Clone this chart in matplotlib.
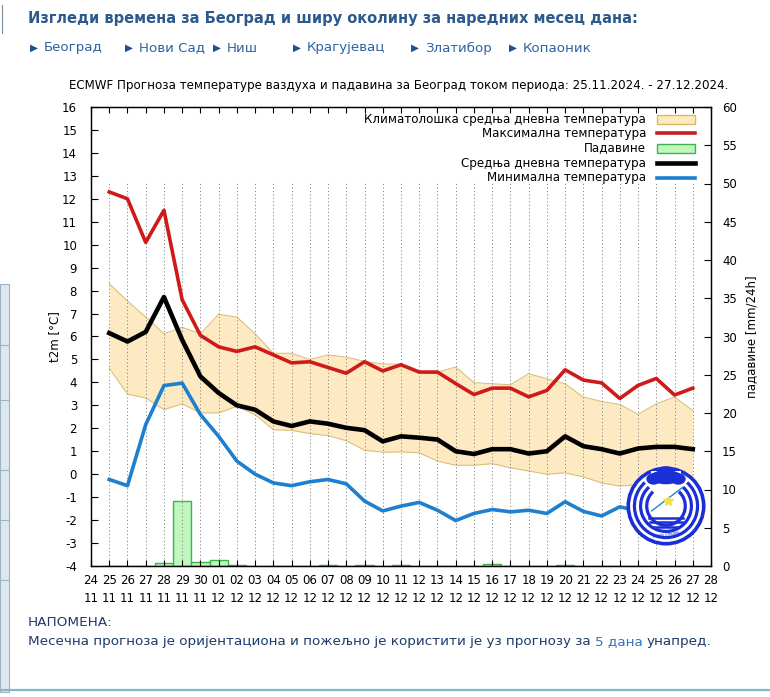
import matplotlib
matplotlib.use("Agg")
import matplotlib.pyplot as plt
import numpy as np
import pandas as pd
from matplotlib.patches import Rectangle, Circle, Arc, Ellipse
from matplotlib.lines import Line2D

plt.rcParams['font.family'] = ['DejaVu Sans']
plt.rcParams['axes.unicode_minus'] = False

# forecast days 25.11.2024 - 27.12.2024
dates = pd.date_range("2024-11-25", "2024-12-27")

tmax = [12.3, 12.0, 10.1, 11.5, 7.6, 6.05,
        5.55, 5.35, 5.55, 5.2, 4.85, 4.9, 4.65, 4.4, 4.9, 4.5,
        4.77, 4.45, 4.45, 3.95, 3.47, 3.75, 3.75, 3.37, 3.65, 4.55,
        4.1, 3.98, 3.3, 3.87, 4.17, 3.45, 3.75]
tmean = [6.15, 5.78, 6.2, 7.72, 5.85, 4.26,
         3.54, 3.0, 2.81, 2.3, 2.1, 2.3, 2.2, 2.02, 1.92, 1.43,
         1.65, 1.59, 1.51, 1.0, 0.88, 1.09, 1.09, 0.9, 1.0, 1.65,
         1.22, 1.09, 0.9, 1.12, 1.19, 1.19, 1.09]
tmin = [-0.23, -0.5, 2.16, 3.86, 3.97, 2.6,
        1.65, 0.57, 0.0, -0.38, -0.5, -0.33, -0.23, -0.42, -1.17, -1.6,
        -1.39, -1.23, -1.57, -2.02, -1.71, -1.54, -1.64, -1.57, -1.71, -1.2,
        -1.62, -1.82, -1.42, -1.6, -1.5, -1.55, -1.5]
clim_hi = [8.3, 7.55, 6.85, 6.12, 6.4, 6.12,
           6.97, 6.85, 6.12, 5.27, 5.27, 5.0, 5.2, 5.1, 4.92, 4.8,
           4.8, 4.4, 4.45, 4.67, 3.99, 3.94, 3.9, 4.38, 4.16, 3.94,
           3.36, 3.17, 3.04, 2.61, 3.07, 3.36, 2.78]
clim_lo = [4.62, 3.49, 3.32, 2.81, 3.07, 2.67,
           2.67, 2.96, 2.59, 1.94, 1.91, 1.77, 1.68, 1.46, 1.04, 0.96,
           0.97, 0.93, 0.57, 0.39, 0.39, 0.46, 0.28, 0.14, 0.0, 0.06,
           -0.12, -0.38, -0.52, -0.45, -0.4, -0.35, -0.3]
precip = [0, 0, 0, 0.45, 8.5, 0.55,
          0.75, 0.15, 0.05, 0, 0, 0, 0.1, 0, 0.1, 0,
          0.1, 0, 0, 0, 0, 0.2, 0, 0.05, 0, 0.1,
          0.05, 0, 0, 0, 0, 0.05, 0.05]

axis_dates = pd.date_range("2024-11-24", "2024-12-28")
tick_labels = [d.strftime("%d\n%m") for d in axis_dates]

legend_labels = ["Климатолошка средња дневна температура",
                 "Максимална температура",
                 "Падавине",
                 "Средња дневна температура",
                 "Минимална температура"]

W, H = 770, 697
fig = plt.figure(figsize=(W / 100, H / 100), dpi=100)


def fx(x):
    return x / W


def fy(y):
    return 1 - y / H


x = (dates - axis_dates[0]).days.values
xt = (axis_dates - axis_dates[0]).days.values

ax = fig.add_axes([fx(91), fy(566), (711 - 91) / W, (566 - 107) / H])
ax2 = ax.twinx()
ax.set_zorder(ax2.get_zorder() + 1)
ax.patch.set_visible(False)

red = '#d01a1a'
blue = '#1f7fcf'
band = '#fde9c2'
band_edge = '#d8bb72'

# precipitation on the right axis
ax2.bar(x, precip, width=1.0, color='#bff7bf', edgecolor='#3fb34a', lw=1.0)
ax2.set_ylim(0, 60)
ax2.set_yticks(range(0, 61, 5))

# climatology band
ax.fill_between(x, clim_lo, clim_hi, color=band, lw=0, zorder=1)
ax.plot(x, clim_hi, color=band_edge, lw=0.7, zorder=1.2)
ax.plot(x, clim_lo, color=band_edge, lw=0.7, zorder=1.2)

# dotted day grid
ax.vlines(xt[1:-1], -4, 12.7, colors='#8a8a8a', linestyles=(0, (1.2, 2.4)),
          lw=0.7, zorder=1.5)

ax.plot(x, tmax, color=red, lw=2.6, zorder=3, solid_joinstyle='round')
ax.plot(x, tmin, color=blue, lw=2.6, zorder=3, solid_joinstyle='round')
ax.plot(x, tmean, color='black', lw=3.3, zorder=4, solid_joinstyle='round')

ax.set_xlim(xt[0], xt[-1])
ax.set_ylim(-4, 16)
ax.set_yticks(range(-4, 17))
ax.set_xticks(xt)
ax.set_xticklabels(tick_labels, linespacing=1.45)

ax.tick_params(axis='x', direction='in', top=True, length=4, pad=6, labelsize=8.5)
ax.tick_params(axis='y', direction='in', right=False, length=5, pad=10, labelsize=8.5)
ax2.tick_params(axis='y', direction='in', length=5, pad=8, labelsize=8.5)
for a in (ax, ax2):
    for s in a.spines.values():
        s.set_linewidth(0.9)

ax.set_ylabel("t2m [°C]", fontsize=8.5, labelpad=1)
ax2.set_ylabel("падавине [mm/24h]", fontsize=8.5, labelpad=6)

# legend drawn gnuplot-style: right-aligned text, key on the right
ly = [119, 133, 148, 163, 178]
for lab, yy in zip(legend_labels, ly):
    fig.text(fx(646), fy(yy), lab, ha='right', va='center', fontsize=8.6)
fig.add_artist(Rectangle((fx(657), fy(124)), 38 / W, 9 / H, fc=band, ec='#e0b860', lw=1))
fig.add_artist(Line2D([fx(657), fx(695)], [fy(ly[1])] * 2, color='#c81e1e', lw=2.6))
fig.add_artist(Rectangle((fx(657), fy(153)), 38 / W, 9 / H, fc='#bff7bf', ec='#3fb34a', lw=1))
fig.add_artist(Line2D([fx(657), fx(695)], [fy(ly[3])] * 2, color='black', lw=3.3))
fig.add_artist(Line2D([fx(657), fx(695)], [fy(ly[4])] * 2, color=blue, lw=2.6))

# logo (sits on top of the plot, as in the original)
lg = fig.add_axes([fx(625), fy(548), 82 / W, 84 / H], zorder=10)
lg.set_xlim(-1, 1)
lg.set_ylim(-1, 1)
lg.set_aspect('equal')
lg.axis('off')
logo_blue = '#1a2fd6'
lg.add_patch(Circle((0, 0), 0.95, fc='white', ec='none'))
lg.add_patch(Circle((0, 0), 0.92, fc='none', ec=logo_blue, lw=2.6))
for r in (0.77, 0.62, 0.47):
    lg.add_patch(Arc((0, 0), 2 * r, 2 * r, theta1=132, theta2=408, color=logo_blue, lw=2.3))
lg.add_patch(Rectangle((-0.36, 0.5), 0.72, 0.35, fc='white', ec='none'))
for cx, cy, w, h in [(0, 0.7, 0.8, 0.34), (-0.3, 0.66, 0.36, 0.28),
                     (0.3, 0.66, 0.36, 0.28), (0, 0.84, 0.42, 0.26)]:
    lg.add_patch(Ellipse((cx, cy), w, h, fc=logo_blue, ec='none'))
for yy, hw in ((-0.3, 0.42), (-0.4, 0.38), (-0.5, 0.3)):
    lg.plot([-hw, hw], [yy, yy], color=logo_blue, lw=1.8)
lg.plot([-0.35, 0.4], [-0.12, 0.45], color='#2a7fe0', lw=1.0)
lg.plot([0.05], [0.12], marker='*', color='#f4e23a', ms=7)
lg.text(0, -0.72, "РХМЗ СРБИЈЕ", ha='center', va='center', fontsize=3,
        color=logo_blue, rotation=8)

# page text
fig.text(fx(28), fy(18), "Изгледи времена за Београд и ширу околину за наредних месец дана:",
         fontsize=10.5, fontweight='bold', color='#2d5a8c', va='center')
links = [("Београд", 30), ("Нови Сад", 125), ("Ниш", 213), ("Крагујевац", 293),
         ("Златибор", 411), ("Копаоник", 509)]
for name, px in links:
    fig.text(fx(px), fy(48), "▶", fontsize=7.5, color='#1f4f8e', va='center')
    fig.text(fx(px + 14), fy(48), name, fontsize=9.6, color='#2d62a3', va='center')

fig.text(fx(399), fy(85),
         "ECMWF Прогноза температуре ваздуха и падавина за Београд током периода: 25.11.2024. - 27.12.2024.",
         fontsize=8.6, ha='center', va='center')

fig.text(fx(28), fy(623), "НАПОМЕНА:", fontsize=9.7, color='#1d3c6c', va='center')
fig.canvas.draw()
rend = fig.canvas.get_renderer()
t1 = fig.text(fx(28), fy(642), "Месечна прогноза је оријентациона и пожељно је користити је уз прогнозу за",
              fontsize=9.7, color='#1d3c6c', va='center')
x1 = t1.get_window_extent(renderer=rend).x1 + 4
t2 = fig.text(x1 / W, fy(642), "5 дана", fontsize=9.7, color='#3a72b8', va='center')
x2 = t2.get_window_extent(renderer=rend).x1 + 4
fig.text(x2 / W, fy(642), "унапред.", fontsize=9.7, color='#1d3c6c', va='center')

# page frame bits
fig.add_artist(Rectangle((0, fy(692)), 9 / W, (692 - 284) / H, fc='#dfe8ef', ec='#9db2c3', lw=0.8))
for yy in (345, 400, 470, 520, 580):
    fig.add_artist(Line2D([0, fx(9)], [fy(yy)] * 2, color='#9db2c3', lw=0.8))
fig.add_artist(Line2D([0, 1], [fy(690)] * 2, color='#86b6cc', lw=1.6))
fig.add_artist(Line2D([fx(1.5), fx(1.5)], [fy(5), fy(33)], color='#7a8a99', lw=0.8))

fig.savefig("out.png", dpi=100)
